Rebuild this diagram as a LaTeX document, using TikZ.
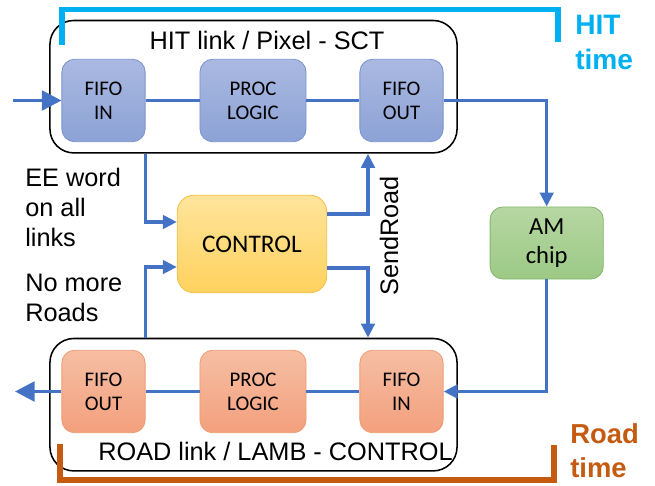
\documentclass[tikz,border=0pt]{standalone}
\usepackage{fontspec}
\setmainfont{Liberation Sans}
\newfontfamily\boxfont{Carlito}
\usepackage{xcolor}
\usepackage{tikz}
\usetikzlibrary{arrows.meta,calc}

\definecolor{flowblue}{HTML}{4472C4}
\definecolor{hitcyan}{HTML}{00B0F0}
\definecolor{roadorange}{HTML}{C55A11}
\definecolor{hittop}{HTML}{AAB9E1}
\definecolor{hitbot}{HTML}{8CA2D6}
\definecolor{hitedge}{HTML}{7B93CD}
\definecolor{roadtop}{HTML}{F6BEA3}
\definecolor{roadbot}{HTML}{F3A07D}
\definecolor{roadedge}{HTML}{EE9C74}
\definecolor{ctrltop}{HTML}{FFE49B}
\definecolor{ctrlbot}{HTML}{FFD25E}
\definecolor{ctrledge}{HTML}{F2C14A}
\definecolor{amtop}{HTML}{B6D7A3}
\definecolor{ambot}{HTML}{9CC985}
\definecolor{amedge}{HTML}{86B76E}

\tikzset{
	linkbox/.style={draw=black,line width=1.1pt,rounded corners=17pt,fill=white,
		minimum width=10.175cm,minimum height=3.31cm},
	hitblock/.style={draw=hitedge,line width=0.6pt,rounded corners=9pt,
		top color=hittop,bottom color=hitbot,align=center,
		font=\boxfont\fontsize{14.8}{17.2}\selectfont,minimum height=2.06cm},
	roadblock/.style={hitblock,draw=roadedge,top color=roadtop,bottom color=roadbot},
	fifo/.style={minimum width=2.08cm},
	proc/.style={minimum width=2.65cm},
	flow/.style={draw=flowblue,line width=2.5pt},
	bigtip/.style={-{Triangle[length=14pt,width=14pt]}},
	smalltip/.style={-{Triangle[length=10pt,width=9.5pt]}},
	sidetext/.style={align=left,inner sep=0pt,anchor=base west,
		font=\fontsize{18}{21.3}\selectfont},
}

\begin{document}
\begin{tikzpicture}[x=0.025cm,y=-0.025cm]
			\useasboundingbox (0,0) rectangle (655,485);

			% the two link boards
			\node(hitbox)[linkbox] at (253.5,86.7) {};
			\node(roadbox)[linkbox] at (253.5,404.7) {};
			\node(hittitle)[anchor=base,font=\fontsize{18}{21}\selectfont] at (267,50) {HIT link / Pixel - SCT};
			\node(roadtitle)[anchor=base west,inner sep=0pt,font=\fontsize{18}{21}\selectfont] at (98,460) {ROAD link / LAMB - CONTROL};

			% HIT chain
			\node(hitin)[hitblock,fifo] at (103.5,100.5) {FIFO\\IN};
			\node(hitproc)[hitblock,proc] at (253,100.5) {PROC\\LOGIC};
			\node(hitout)[hitblock,fifo] at (401.5,100.5) {FIFO\\OUT};

			% ROAD chain
			\node(roadout)[roadblock,fifo] at (103.5,391.5) {FIFO\\OUT};
			\node(roadproc)[roadblock,proc] at (253,391.5) {PROC\\LOGIC};
			\node(roadin)[roadblock,fifo] at (401.5,391.5) {FIFO\\IN};

			\node(ctrl)[hitblock,draw=ctrledge,top color=ctrltop,bottom color=ctrlbot,
				rounded corners=12pt,minimum width=3.735cm,minimum height=2.44cm,
				font=\boxfont\fontsize{18}{21}\selectfont] at (252,244) {CONTROL};
			\node(am)[hitblock,draw=amedge,top color=amtop,bottom color=ambot,
				minimum width=2.83cm,minimum height=1.8cm,
				font=\boxfont\fontsize{17.5}{21}\selectfont] at (546.7,243) {AM\\chip};

			\coordinate(hitsrc) at (13,100.5);
			\coordinate(roadsink) at (15,391.5);
			\coordinate(sendx) at (368,0);

			% data flow
			\draw[flow,bigtip] (hitsrc) -- (hitin);
			\draw[flow] (hitin) -- (hitproc);
			\draw[flow] (hitproc) -- (hitout);
			\draw[flow,smalltip] (hitout.east) -| (am.north);
			\draw[flow,smalltip] (am.south) |- (roadin.east);
			\draw[flow] (roadin) -- (roadproc);
			\draw[flow] (roadproc) -- (roadout);
			\draw[flow,bigtip] (roadout) -- (roadsink);

			% control lines
			\draw[flow,smalltip] (hitin.east |- hitbox.south) |- ($(ctrl.west)+(0,-22)$);
			\draw[flow,smalltip] (hitin.east |- roadbox.north) |- ($(ctrl.west)+(0,23)$);
			\draw[flow,smalltip] ($(ctrl.east)+(0,-30)$) -| (sendx |- hitbox.south);
			\draw[flow,smalltip] ($(ctrl.east)+(0,24)$) -| (sendx |- roadbox.north);

			\node(sendroad)[rotate=90,anchor=base,inner sep=0pt,font=\fontsize{18}{21}\selectfont] at (398,236) {SendRoad};
			% base of a multi-line node is its last line
			\node(eeword)[sidetext] at (25,246.7) {EE word\\on all\\links};
			\node(nomore)[sidetext] at (25,321.7) {No more\\Roads};

			% timing brackets
			\draw[hitcyan,line width=4pt] (62,45) |- (557.7,9.5) -- (557.7,42);
			\node(hittime)[sidetext,text=hitcyan,font=\bfseries\fontsize{20}{25}\selectfont] at (575,70) {HIT\\time};
			\draw[roadorange,line width=3.6pt] (60,444) |- (554,480) -- (554,445);
			\node(roadtime)[sidetext,text=roadorange,font=\bfseries\fontsize{19.5}{23.5}\selectfont] at (570,477) {Road\\time};
		\end{tikzpicture}
\end{document}
